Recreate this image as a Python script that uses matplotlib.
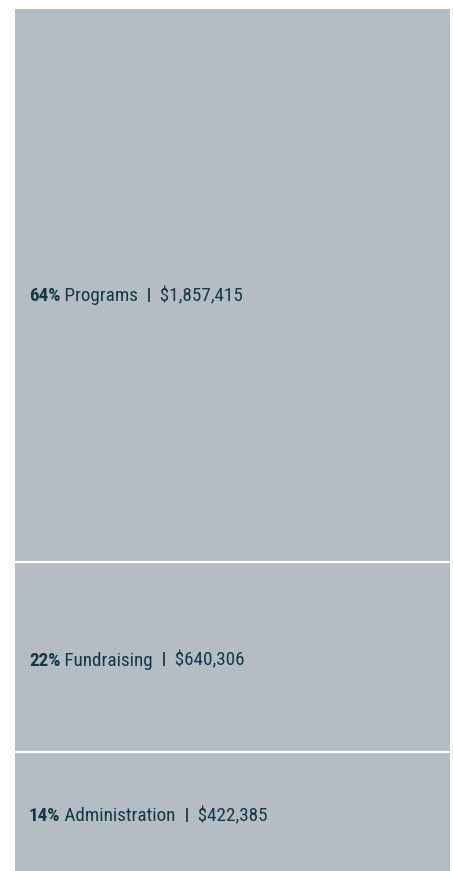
import matplotlib
matplotlib.use("Agg")
import matplotlib.pyplot as plt
from matplotlib import font_manager
from matplotlib.transforms import offset_copy

categories = ["Programs", "Fundraising", "Administration"]
percents = [64, 22, 14]
amounts = ["$1,857,415", "$640,306", "$422,385"]

fams = {f.name for f in font_manager.fontManager.ttflist}
FONT = next((f for f in ["Roboto Condensed", "Archivo Narrow", "Liberation Sans Narrow",
                         "Asap Condensed", "Roboto"] if f in fams), "DejaVu Sans")
PIPE_FONT = next((f for f in ["Archivo Black", "Roboto"] if f in fams), FONT)

W, H = 453, 871
fig = plt.figure(figsize=(W / 100, H / 100), dpi=100)
fig.patch.set_facecolor("white")
scale = 553 / 64.0  # px per percent
ax_h = scale * 100
ax = fig.add_axes([15 / W, (H - 9 - ax_h) / H, (450 - 15) / W, ax_h / H])
ax.set_xlim(0, 1)
ax.set_ylim(0, sum(percents))
ax.axis("off")

BAR = "#b5bcc4"
TXT = "#0f3a46"
baseline_dy_px = [15.5, 8.5, 8.5]

fig.canvas.draw()
r = fig.canvas.get_renderer()
top = sum(percents)
for cat, p, amt, dy in zip(categories, percents, amounts, baseline_dy_px):
    bottom = top - p
    ax.bar(0.5, p, bottom=bottom, width=1.0, color=BAR, edgecolor="none")
    if bottom > 0:
        ax.axhline(bottom, color="white", lw=1.6)
    yc = bottom + p / 2
    x = 0.032
    pieces = [(f"{p}%", "black", 13.8, 0, FONT), (f" {cat}  ", "normal", 13.8, 0, FONT),
              ("|", "black", 10.5, 2.2, PIPE_FONT), (f"  {amt}", "normal", 13.8, 0, FONT)]
    for s, w, fs, up, fam in pieces:
        tr = offset_copy(ax.transData, fig=fig, y=-(dy - up) * 72 / 100, units="points")
        t = ax.text(x, yc, s, fontsize=fs, fontweight=w, color=TXT,
                    family=fam, va="baseline", ha="left", transform=tr)
        bb = t.get_window_extent(renderer=r)
        x = ax.transData.inverted().transform((bb.x1, bb.y0))[0]
    top = bottom

fig.savefig("out.png", dpi=100, facecolor="white")
